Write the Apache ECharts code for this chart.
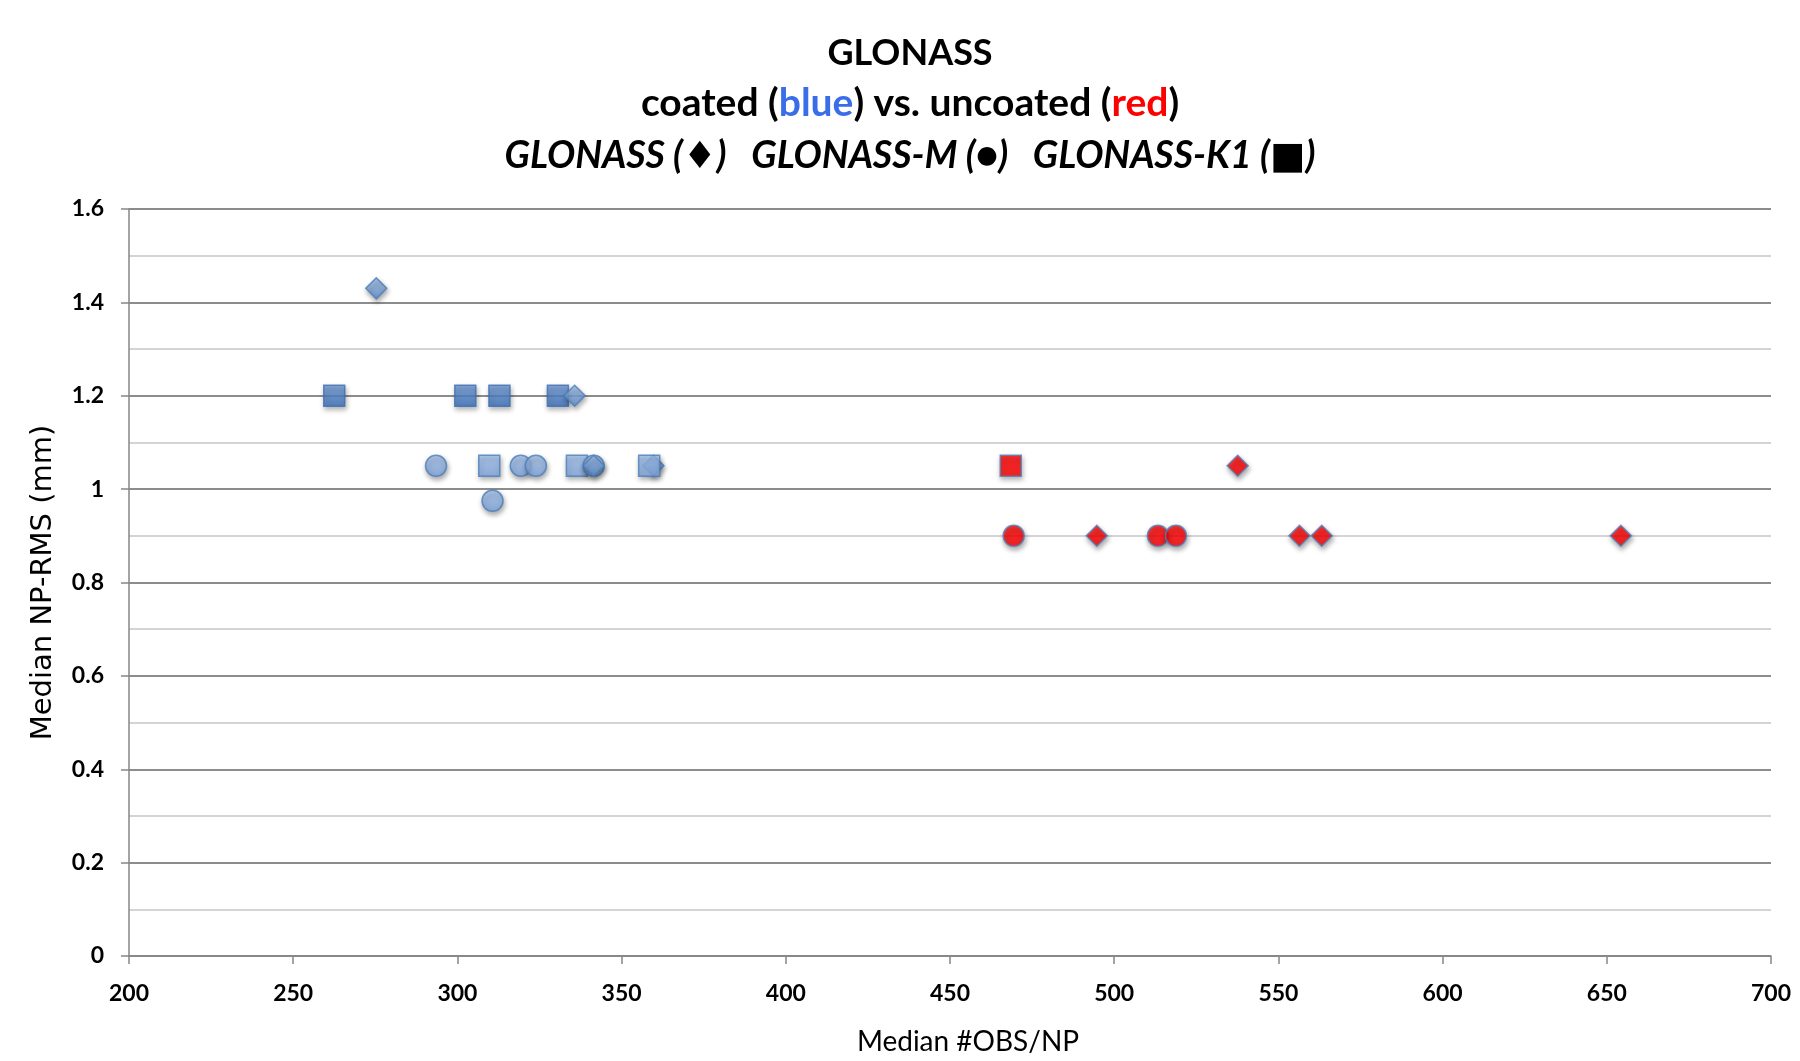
<!DOCTYPE html>
<html>
<head>
<meta charset="utf-8">
<script src="https://cdn.jsdelivr.net/npm/echarts@6/dist/echarts.min.js"></script>
<style>
html,body{margin:0;padding:0;background:#fff;}
#c{width:1800px;height:1061px;}
</style>
</head>
<body>
<div id="c"></div>
<script>
// ---- data (x = Median #OBS/NP, y = Median NP-RMS mm) ----
var blueDiamondsUnder = [[359.7, 1.05]];
var blueSquaresLight = [[309.7, 1.05], [336.4, 1.05], [358.4, 1.05]];
var blueSquaresDark = [[262.5, 1.2], [302.4, 1.2], [312.8, 1.2], [330.6, 1.2]];
var blueCircles = [[293.5, 1.05], [319.3, 1.05], [323.9, 1.05], [341.5, 1.05], [310.7, 0.975]];
var blueDiamonds = [[275.3, 1.43], [335.7, 1.2], [341.5, 1.05]];
var redSquares = [[468.5, 1.05]];
var redCircles = [[469.4, 0.9], [513.3, 0.9], [518.8, 0.9]];
var redDiamonds = [[537.6, 1.05], [494.7, 0.9], [556.4, 0.9], [563.2, 0.9], [654.3, 0.9]];

var xMin = 200, xMax = 700, xStep = 50;
var yMin = 0, yMax = 1.6, yStep = 0.2;

var titleLine1 = 'GLONASS';
var titleLine3 = 'GLONASS (\u2666)   GLONASS-M (\u25CF)   GLONASS-K1 (\u25A0)';
var xName = 'Median #OBS/NP';
var yName = 'Median NP-RMS (mm)';

var FONT = 'Lato, "Open Sans", "DejaVu Sans", sans-serif';

function grad(c1, c2) {
  return new echarts.graphic.LinearGradient(0, 0, 0, 1, [
    {offset: 0, color: c1}, {offset: 1, color: c2}
  ]);
}
var shadow = {shadowColor: 'rgba(0,0,0,0.4)', shadowBlur: 5, shadowOffsetX: 1, shadowOffsetY: 3};
function style(fill, border) {
  return Object.assign({color: fill, borderColor: border, borderWidth: 1.5}, shadow);
}
function mk(name, data, symbol, size, itemStyle) {
  return {
    name: name, type: 'scatter', data: data, symbol: symbol, symbolSize: size,
    itemStyle: itemStyle, silent: true, animation: false
  };
}

var chart = echarts.init(document.getElementById('c'), null, {renderer: 'canvas'});
chart.setOption({
  backgroundColor: '#ffffff',
  animation: false,
  title: [
    {text: titleLine1, left: 905, top: 48, textAlign: 'center', textVerticalAlign: 'middle',
     textStyle: {fontFamily: FONT, fontWeight: 'bold', fontSize: 36, color: '#000'}},
    {text: '{a|coated (}{b|blue}{a|) vs. uncoated (}{c|red}{a|)}', left: 905, top: 98,
     textAlign: 'center', textVerticalAlign: 'middle',
     textStyle: {fontFamily: FONT, fontWeight: 'bold', fontSize: 39, color: '#000',
       rich: {
         a: {fontFamily: FONT, fontWeight: 'bold', fontSize: 39, color: '#000'},
         b: {fontFamily: FONT, fontWeight: 'bold', fontSize: 39, color: '#3a6ee8'},
         c: {fontFamily: FONT, fontWeight: 'bold', fontSize: 39, color: '#ff0000'}
       }}},
    {text: titleLine3, left: 905, top: 151, textAlign: 'center', textVerticalAlign: 'middle',
     textStyle: {fontFamily: FONT, fontWeight: 'bold', fontStyle: 'italic', fontSize: 37.5, color: '#000'}}
  ],
  grid: {left: 129, right: 29, top: 209, bottom: 92, containLabel: false},
  xAxis: {
    type: 'value', min: xMin, max: xMax, interval: xStep,
    name: xName, nameLocation: 'middle', nameGap: 72,
    nameTextStyle: {fontFamily: FONT, fontSize: 28, color: '#000', padding: [0, 0, 0, 36]},
    axisLine: {show: true, onZero: false, lineStyle: {color: '#868686', width: 1.5}},
    axisTick: {show: true, length: 8, inside: false, lineStyle: {color: '#868686', width: 1.5}},
    axisLabel: {margin: 26, fontFamily: FONT, fontSize: 23, fontWeight: 'bold', color: '#000'},
    splitLine: {show: false}
  },
  yAxis: {
    type: 'value', min: yMin, max: yMax, interval: yStep,
    name: yName, nameLocation: 'middle', nameGap: 71,
    nameTextStyle: {fontFamily: '"DejaVu Sans", sans-serif', fontSize: 29, color: '#000'},
    axisLine: {show: true, lineStyle: {color: '#868686', width: 1.5}},
    axisTick: {show: true, length: 8, inside: false, lineStyle: {color: '#868686', width: 1.5}},
    axisLabel: {margin: 25, fontFamily: FONT, fontSize: 23, fontWeight: 'bold', color: '#000'},
    splitLine: {show: true, lineStyle: {color: '#8c8c8c', width: 1.8}},
    minorTick: {show: false, splitNumber: 2},
    minorSplitLine: {show: true, lineStyle: {color: '#d4d4d4', width: 1.8}}
  },
  series: [
    mk('GLONASS coated (under)', blueDiamondsUnder, 'diamond', 21, style(grad('#a4c2ec', '#5b8ccc'), '#4a7ebb')),
    mk('GLONASS-K1 coated (light)', blueSquaresLight, 'rect', 21, style(grad('#a3c3f0', '#82a9e0'), '#4a7ebb')),
    mk('GLONASS-K1 coated', blueSquaresDark, 'rect', 21, style(grad('#6e9ad8', '#3b71bd'), '#3d6eb0')),
    mk('GLONASS-M coated', blueCircles, 'circle', 21, style(grad('#a8c5ee', '#7ea6de'), '#4a7ebb')),
    mk('GLONASS coated', blueDiamonds, 'diamond', 21, style(grad('#a4c2ec', '#5b8ccc'), '#4a7ebb')),
    mk('GLONASS-K1 uncoated', redSquares, 'rect', 21, style('#ff0000', '#4f81bd')),
    mk('GLONASS-M uncoated', redCircles, 'circle', 21, style('#ff0000', '#4f81bd')),
    mk('GLONASS uncoated', redDiamonds, 'diamond', 21, style('#ff0000', '#4f81bd'))
  ]
});
</script>
</body>
</html>
